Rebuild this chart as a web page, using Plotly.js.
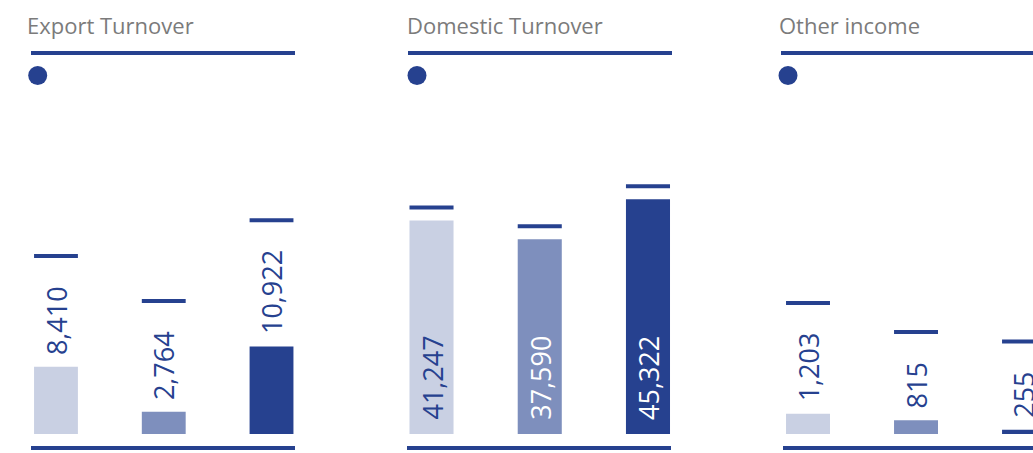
<!DOCTYPE html>
<html><head><meta charset="utf-8">
<script src="https://cdn.plot.ly/plotly-3.0.1.min.js"></script>
<style>html,body{margin:0;padding:0;background:#fff;overflow:hidden}</style>
</head><body><div id="chart" style="width:1033px;height:453px"></div>
<script>
// ---- data ----
const panelTitles = ["Export Turnover", "Domestic Turnover", "Other income"];
const periods = [0, 1, 2];
const exportTurnover = [8410, 2764, 10922];
const domesticTurnover = [41247, 37590, 45322];
const otherIncome = [1203, 815, 255];
const exportLabels = ["8,410", "2,764", "10,922"];
const domesticLabels = ["41,247", "37,590", "45,322"];
const otherLabels = ["1,203", "815", "255"];

// ---- styles ----
const barColors = ["#C9D0E3", "#7E8FBD", "#26418F"];
const dark = "#26418F";
const W = 1033, H = 453;
const labelFont = 'Open Sans';
const labelSize = 27;

const series = [exportTurnover, domesticTurnover, otherIncome];
const labels = [exportLabels, domesticLabels, otherLabels];
// panel geometry in pixels (layout only)
const panels = [
  {dom: [2.1, 325.4], range: [-0.5, 2.5], yMax: 41700, line: [31, 295], base: [31, 295], dot: 37.7, title: 25},
  {dom: [377.4, 702.1], range: [-0.5, 2.5], yMax: 64500, line: [408, 672], base: [407, 671], dot: 417, title: 405},
  {dom: [754, 1033], range: [-0.5, 2.083], yMax: 19950, line: [781, 1033], base: [783, 1033], dot: 788, title: 777}
];
const plotBottom = 434, plotTop = 100, plotH = plotBottom - plotTop;
const py = p => (H - p) / H;
const px = p => p / W;
const barW = 0.407;

const ctx = document.createElement('canvas').getContext('2d');
ctx.font = labelSize + 'px "' + labelFont + '"';
const textLen = s => ctx.measureText(s).width;

const traces = [], annotations = [], shapes = [];
const layout = {
  width: W, height: H, margin: {l: 0, r: 0, t: 0, b: 0},
  paper_bgcolor: '#fff', plot_bgcolor: 'rgba(0,0,0,0)',
  showlegend: false, annotations, shapes
};

panels.forEach((p, k) => {
  const xa = k === 0 ? 'x' : 'x' + (k + 1);
  const ya = k === 0 ? 'y' : 'y' + (k + 1);
  const xk = k === 0 ? 'xaxis' : 'xaxis' + (k + 1);
  const yk = k === 0 ? 'yaxis' : 'yaxis' + (k + 1);
  layout[xk] = {domain: [px(p.dom[0]), px(p.dom[1])], range: p.range, visible: false, fixedrange: true, anchor: ya};
  layout[yk] = {domain: [py(plotBottom), py(plotTop)], range: [0, p.yMax], visible: false, fixedrange: true, anchor: xa};
  traces.push({
    type: 'bar', x: periods, y: series[k], xaxis: xa, yaxis: ya,
    width: barW, marker: {color: barColors, line: {width: 0}},
    hoverinfo: 'none', cliponaxis: false
  });
  series[k].forEach((v, i) => {
    const txt = labels[k][i];
    const len = textLen(txt);
    const barPx = v / p.yMax * plotH;
    const inside = barPx > len + 30;
    annotations.push({
      xref: xa, yref: ya, x: periods[i], y: inside ? 0 : v,
      xanchor: 'center', yanchor: 'bottom', yshift: inside ? 12 : 10,
      text: txt, textangle: -90, showarrow: false,
      font: {family: labelFont, size: labelSize, color: inside && i > 0 ? '#ffffff' : dark}
    });
    const off = inside ? 13 : 12 + len + 30;
    shapes.push({
      type: 'rect', xref: xa, yref: ya, x0: periods[i] - barW / 2, x1: periods[i] + barW / 2,
      ysizemode: 'pixel', yanchor: v, y0: off - 2, y1: off + 2,
      fillcolor: dark, line: {width: 0}
    });
  });
  // title
  annotations.push({
    xref: 'paper', yref: 'paper', x: px(p.title), y: py(25), xanchor: 'left', yanchor: 'middle',
    text: panelTitles[k], showarrow: false,
    font: {family: labelFont, size: 22, color: '#7b7b7b'}
  });
  // title rule
  shapes.push({type: 'rect', xref: 'paper', yref: 'paper', x0: px(p.line[0]), x1: px(p.line[1]),
    y0: py(55), y1: py(51), fillcolor: dark, line: {width: 0}});
  // dot
  shapes.push({type: 'circle', xref: 'paper', yref: 'paper', x0: px(p.dot - 9.5), x1: px(p.dot + 9.5),
    y0: py(85), y1: py(66), fillcolor: dark, line: {width: 0}});
  // baseline
  shapes.push({type: 'rect', xref: 'paper', yref: 'paper', x0: px(p.base[0]), x1: px(p.base[1]),
    y0: py(450), y1: py(446), fillcolor: dark, line: {width: 0}});
});

Plotly.newPlot('chart', traces, layout, {staticPlot: true, displayModeBar: false});
</script></body></html>
